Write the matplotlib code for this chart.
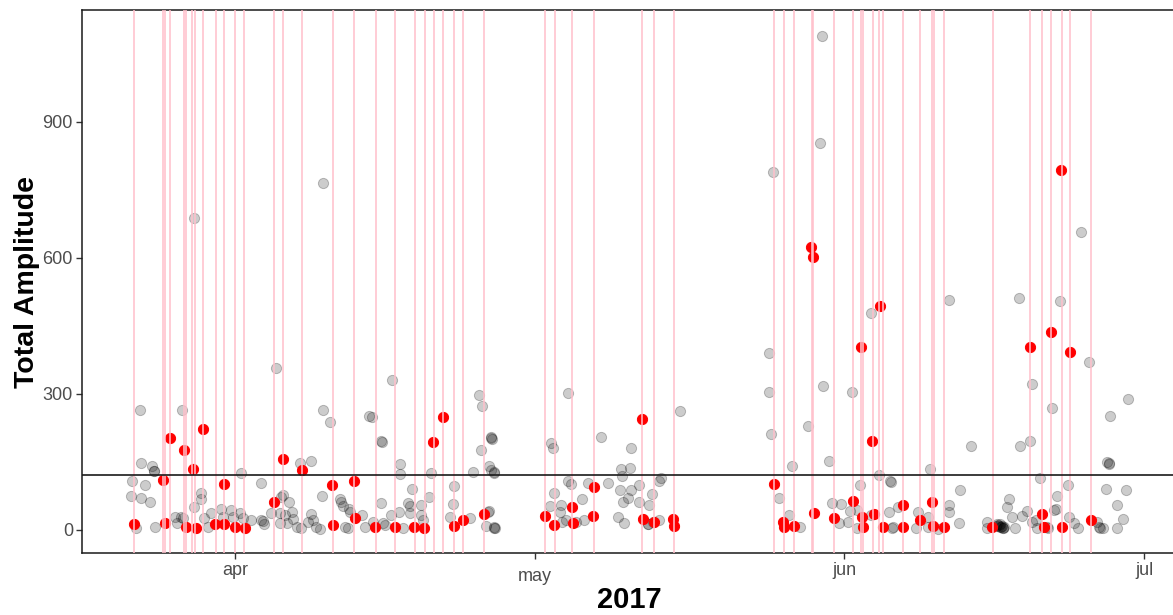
import numpy as np
import matplotlib
matplotlib.use("Agg")
import matplotlib.pyplot as plt
import matplotlib.dates as mdates

plt.rcParams['font.family'] = ['Liberation Sans', 'DejaVu Sans']

# ---------------- data (days relative to 2017-04-01, amplitude) ----------------
base_date = '2017-04-01'

grey_days = [
    -9.47, -5.33, -4.1, 4.15, -9.37, -8.25, -8.1, -8.05, -10.3, -8.97, -10.43, -9.43, -8.53,
    0.63, 2.6, -3.35, -3.35, -4.1, -5.37, -6.03, -5.83, -5.17, -1.35, -0.35, -2.37, -3.05,
    -7.97, -9.87, -2.7, 0.47, 1.63, 2.63, 2.8, 2.95, 3.63, 4.63, -1.17, -0.17, 0.83, 4.5, 4.5, 5.17,
    4.83, 5.45, 5.0, 5.67, 5.83, 6.17, 6.67, 6.55, 7.67, 7.33, 7.67, 7.83, 8.17, 8.5, 8.7, 8.83,
    9.57, 8.8, 10.5, 10.67, 10.85, 11.43, 11.0, 11.33, 11.5, 12.77, 13.0, 13.43, 13.77, 13.83,
    14.6, 14.6, 14.7, 15.0, 15.67, 15.73, 16.43, 16.57, 16.57, 16.83, 17.33, 17.5, 17.5, 17.77,
    18.67, 18.67, 18.83, 19.43, 19.67, 14.83,
    21.5, 21.8, 21.95, 23.5, 23.83, 24.43, 24.77, 24.6, 25.43, 25.67, 25.9, 25.67, 25.6, 25.35,
    25.4, 25.1, 25.95, 25.9, 25.7, 25.95, 26.0,
    31.5, 31.67, 31.83, 31.93, 32.67, 32.5, 32.77, 33.1, 33.33, 33.6, 33.33, 34.17, 34.77, 34.9,
    35.33, 36.6, 37.33, 38.33, 38.5, 38.67, 38.77, 38.83, 39.33, 38.93, 39.57, 39.67, 39.67,
    40.43, 40.43, 41.33, 41.4, 41.43, 41.77, 41.83, 42.43, 42.5, 42.67, 44.6,
    58.73, 58.6, 53.83, 53.5, 53.5, 53.65, 57.33, 58.9, 61.73, 63.67, 55.73, 59.43, 54.45, 55.48,
    56.55, 59.8, 60.65, 60.5, 61.32, 61.55, 62.3, 62.32, 62.57, 63.63, 64.45, 65.47, 65.57, 65.65,
    65.8, 65.9, 66.35,
    68.2, 68.4, 69.33, 69.33, 69.57, 70.33, 71.5, 71.5, 71.5, 72.45, 72.55, 73.67, 75.3, 75.3,
    76.3, 76.5, 76.7, 76.85, 77.0, 76.4, 76.6, 76.75, 76.9, 76.2, 76.55,
    77.5, 77.33, 77.77, 78.13, 78.45, 78.55, 78.83, 79.25, 79.63, 79.77, 79.8,
    80.17, 80.3, 80.58, 81.33, 81.4, 81.78, 81.95, 82.17, 82.33, 82.55, 83.43, 83.48, 84.0, 84.43,
    84.67, 85.5, 86.33, 86.5, 86.55, 86.9, 87.17, 87.33, 87.5, 87.45, 87.6, 88.25, 88.33, 88.85,
    89.23, 89.38,
]
grey_amp = [
    265, 265, 688, 357, 147, 141, 131, 129, 107, 98, 75, 71, 61,
    125, 104, 82, 69, 51, 29, 29, 15, 26, 47, 44, 37, 26,
    7, 4, 7, 37, 22, 22, 20, 12, 37, 73, 29, 29, 26, 37, 15, 15,
    77, 62, 33, 40, 24, 7, 4, 148, 151, 18, 35, 21, 7, 2, 75, 265,
    239, 765, 69, 61, 52, 45, 7, 4, 40, 33, 7, 251, 248, 18,
    59, 197, 193, 11, 32, 331, 40, 145, 124, 4, 59, 53, 37, 90,
    55, 33, 22, 72, 125, 15,
    29, 58, 96, 26, 127, 298, 274, 176, 140, 132, 126, 204, 202, 40,
    42, 9, 4, 6, 200, 128, 5,
    53, 191, 180, 82, 55, 40, 18, 22, 107, 101, 302, 17, 68, 22,
    104, 206, 103, 28, 87, 134, 118, 61, 70, 16, 136, 180, 88,
    98, 62, 13, 12, 55, 79, 18, 22, 107, 114, 263,
    1090, 854, 790, 391, 305, 212, 229, 318, 304, 479, 141, 153, 71, 33,
    6, 59, 58, 15, 18, 42, 44, 4, 98, 33, 122, 39, 107, 105,
    4, 6, 50,
    5, 39, 29, 7, 134, 2, 507, 55, 39, 16, 88, 184, 17, 4,
    13, 9, 7, 4, 7, 10, 6, 9, 5, 8, 12,
    69, 51, 29, 4, 511, 184, 30, 41, 196, 322, 18,
    22, 4, 114, 7, 5, 268, 43, 46, 75, 506, 98, 29, 15, 4,
    657, 371, 18, 7, 5, 4, 90, 150, 147, 145, 251, 4, 55, 25,
    87, 288,
]

red_days = [
    -10.05, -7.2, -6.97, -6.47, -5.13, -4.87, -4.2, -3.93, -3.2, -1.97, -1.1, -1.1, -0.03, 0.97,
    3.9, 4.8, 6.77, 9.73, 9.83, 11.9, 12.0, 14.05, 16.0, 17.93, 18.95, 19.85, 20.87, 21.95,
    22.83, 24.93, 31.05, 31.95, 33.77, 33.83, 35.9, 35.85, 40.75, 40.85, 41.93, 43.83, 44.0,
    53.95, 54.83, 54.95, 55.93, 57.67, 57.9, 57.93, 59.95, 61.9, 62.65, 62.77, 62.92, 63.8,
    63.98, 64.57, 64.9, 66.83, 66.92, 68.6, 69.77, 69.87, 70.97, 75.83, 79.6, 80.77, 80.97,
    81.67, 82.73, 82.83, 83.6, 85.67,
]
red_amp = [
    12, 109, 15, 202, 176, 7, 134, 4, 222, 13, 13, 101, 7, 4,
    61, 156, 132, 98, 11, 107, 27, 7, 7, 7, 4, 193, 249, 8,
    21, 34, 31, 11, 51, 16, 94, 31, 245, 25, 18, 25, 8,
    101, 18, 7, 8, 624, 601, 38, 26, 64, 403, 28, 7, 195,
    36, 493, 7, 55, 7, 21, 61, 8, 7, 7, 403, 36, 6,
    436, 794, 6, 393, 22,
]

event_days = [
    -10.05, -7.23, -6.97, -6.5, -5.13, -4.87, -4.25, -3.95, -3.2, -1.9, -1.1, 0.03, 0.95, 3.93,
    4.83, 6.77, 9.8, 11.9, 14.1, 16.0, 18.0, 19.0, 19.9, 20.85, 21.93, 22.83, 24.93, 31.03,
    32.0, 33.77, 35.9, 40.77, 41.93, 43.93, 53.93, 54.93, 55.93, 57.77, 57.9, 59.93, 61.9,
    62.67, 62.83, 63.9, 64.5, 64.9, 66.83, 68.6, 69.77, 69.93, 70.97, 75.9, 79.6, 80.83,
    81.67, 82.77, 83.6, 85.73,
]

threshold = 120
month_starts = ['2017-04-01', '2017-05-01', '2017-06-01', '2017-07-01']
month_labels = ['apr', 'may', 'jun', 'jul']
y_ticks = [0, 300, 600, 900]
x_title = '2017'
y_title = 'Total Amplitude'

# ---------------- plot ----------------
W, H = 1173, 615
fig = plt.figure(figsize=(W / 100, H / 100), dpi=100)
ax = fig.add_axes([82 / W, 62 / H, (1176 - 82) / W, (553 - 10) / H])

b = mdates.date2num(np.datetime64(base_date))
gx = b + np.array(grey_days)
rx = b + np.array(red_days)

ax.scatter(gx, grey_amp, s=54, facecolors=[(0, 0, 0, 0.2)],
           edgecolors=[(0, 0, 0, 0.24)], linewidths=0.7, zorder=2)
ax.scatter(rx, red_amp, s=54, facecolors='#FF0000', edgecolors='#FF0000',
           linewidths=0.7, zorder=3)
for d in event_days:
    ax.axvline(b + d, color='#FFC0CB', alpha=0.8, lw=1.4, zorder=4)
ax.axhline(threshold, color='#1a1a1a', lw=1.2, zorder=5)

ax.set_xlim(b - 15.3, b + 94.2)
ax.set_ylim(-51, 1147)
ax.set_yticks(y_ticks)
ax.set_yticklabels([str(v) for v in y_ticks])
ax.set_xticks([mdates.date2num(np.datetime64(m)) for m in month_starts])
ax.set_xticklabels(month_labels)

for side in ['left', 'bottom', 'top']:
    ax.spines[side].set_color('#1a1a1a')
    ax.spines[side].set_linewidth(1.1)
ax.spines['right'].set_visible(False)

ax.tick_params(axis='both', length=4, width=1, color='#333333', labelsize=13,
               labelcolor='#4D4D4D', pad=2.5)
ticks = ax.xaxis.get_major_ticks()
ticks[1].set_pad(6.8)

ax.set_xlabel(x_title, fontsize=21, fontweight='bold', color='black')
ax.xaxis.label.set_va('center')
ax.xaxis.set_label_coords(0.5, (553 - 600) / 543)
ax.set_ylabel(y_title, fontsize=20.5, fontweight='bold', color='black')
ax.yaxis.label.set_va('center')
ax.yaxis.set_label_coords((27 - 82) / 1094, 0.5)

fig.savefig('out.png', dpi=100)
